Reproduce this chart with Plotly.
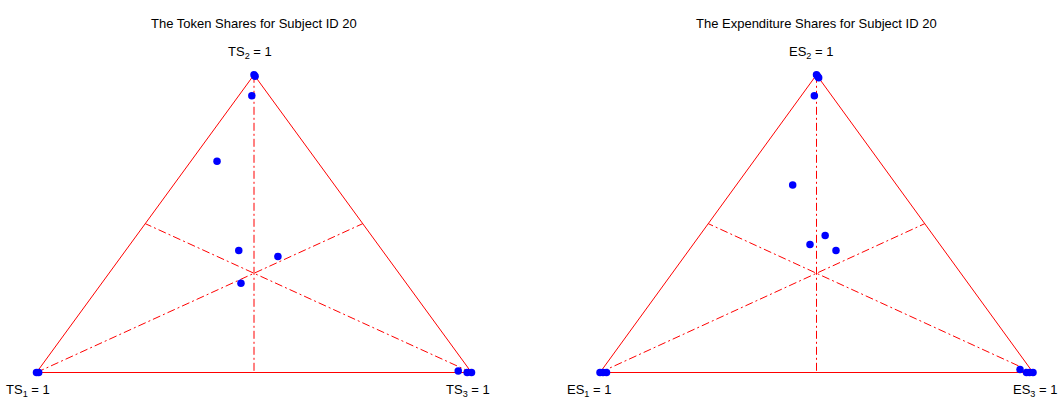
import plotly.graph_objects as go

# token shares (TS1, TS2, TS3) for each observation
ts1 = [1.0, 0.995, 0.0, 0.0, 0.04, 0.23, 0.33, 0.25, 0.38, 0.0, 0.01, 0.028]
ts2 = [0.0, 0.0, 1.0, 0.995, 0.93, 0.71, 0.41, 0.39, 0.30, 0.0, 0.0, 0.005]
ts3 = [0.0, 0.005, 0.0, 0.005, 0.03, 0.06, 0.26, 0.36, 0.32, 1.0, 0.99, 0.967]

# expenditure shares (ES1, ES2, ES3)
es1 = [1.0, 0.993, 0.985, 0.0, 0.0, 0.0, 0.04, 0.24, 0.25, 0.30, 0.25, 0.0, 0.008, 0.015, 0.025]
es2 = [0.0, 0.0, 0.0, 1.0, 0.99, 0.995, 0.93, 0.63, 0.46, 0.43, 0.41, 0.0, 0.0, 0.0, 0.01]
es3 = [0.0, 0.007, 0.015, 0.0, 0.01, 0.005, 0.03, 0.13, 0.29, 0.27, 0.34, 1.0, 0.992, 0.985, 0.965]

titles = ["The Token Shares for Subject ID 20", "The Expenditure Shares for Subject ID 20"]
prefixes = ["TS", "ES"]

W, H = 1062, 406
RED = "#ff0000"
BLUE = "#0000ff"
FONT = "Liberation Sans, Arial, sans-serif"


def to_xy(s1, s2, s3):
    # barycentric -> cartesian: vertex1 (0,0), vertex2 (0.5,1), vertex3 (1,0)
    x = [c + b / 2 for a, b, c in zip(s1, s2, s3)]
    y = list(s2)
    return x, y


fig = go.Figure()

# pixel placement of each triangle: (left vertex px, right vertex px, domain)
panels = [(36.5, 471.5, 0.0, 0.5), (600.0, 1033.0, 0.5, 1.0)]
base_px, top_px = 372.5, 74.8

shares = [(ts1, ts2, ts3), (es1, es2, es3)]
label_shift = [
    [(-9, -18), (-4, 22), (-4, -18)],
    [(-11, -18), (-6, 22), (2, -18)],
]

for k, ((x0, x1, d0, d1), (s1, s2, s3)) in enumerate(zip(panels, shares)):
    xa = "x" if k == 0 else "x2"
    ya = "y" if k == 0 else "y2"
    # triangle outline
    fig.add_trace(go.Scatter(x=[0, 1, 0.5, 0], y=[0, 0, 1, 0], mode="lines",
                             line=dict(color=RED, width=1), xaxis=xa, yaxis=ya,
                             hoverinfo="skip", showlegend=False))
    # medians
    for mx, my in [([0.5, 0.5], [1, 0]), ([0, 0.75], [0, 0.5]), ([1, 0.25], [0, 0.5])]:
        fig.add_trace(go.Scatter(x=mx, y=my, mode="lines",
                                 line=dict(color=RED, width=1, dash="8px,3px,2px,3px"),
                                 xaxis=xa, yaxis=ya, hoverinfo="skip", showlegend=False))
    px, py = to_xy(s1, s2, s3)
    fig.add_trace(go.Scatter(x=px, y=py, mode="markers",
                             marker=dict(color=BLUE, size=7.5, line=dict(width=0)),
                             xaxis=xa, yaxis=ya, showlegend=False))

    scale = (x1 - x0)
    dom_l, dom_r = d0 * W, d1 * W
    xr = [(dom_l - x0) / scale, (dom_r - x0) / scale]
    ys = base_px - top_px
    yr = [(base_px - H) / ys, base_px / ys]
    axkw = dict(visible=False, showgrid=False, zeroline=False, fixedrange=True)
    fig.update_layout(**{
        ("xaxis" if k == 0 else "xaxis2"): dict(domain=[d0, d1], range=xr, anchor=ya, **axkw),
        ("yaxis" if k == 0 else "yaxis2"): dict(domain=[0, 1], range=yr, anchor=xa, **axkw),
    })

    fig.add_annotation(x=0.5, y=1 - 14 / H, xref=xa, yref="paper", text=titles[k],
                       showarrow=False, font=dict(family=FONT, size=13, color="#000000"))
    p = prefixes[k]
    for (vx, vy), idx, (dx, dy) in zip([(0, 0), (0.5, 1), (1, 0)], [1, 2, 3], label_shift[k]):
        fig.add_annotation(x=vx, y=vy, xref=xa, yref=ya, text=f"{p}<sub>{idx}</sub> = 1",
                           showarrow=False, xshift=dx, yshift=dy,
                           font=dict(family=FONT, size=13, color="#000000"))

fig.update_layout(width=W, height=H, autosize=False,
                  margin=dict(l=0, r=0, t=0, b=0),
                  paper_bgcolor="white", plot_bgcolor="white")

# page body has a default 8px margin; drop it so the figure fills the window
fig.write_html("out.html", config={"displayModeBar": False},
               post_script="document.body.style.margin='0';")
